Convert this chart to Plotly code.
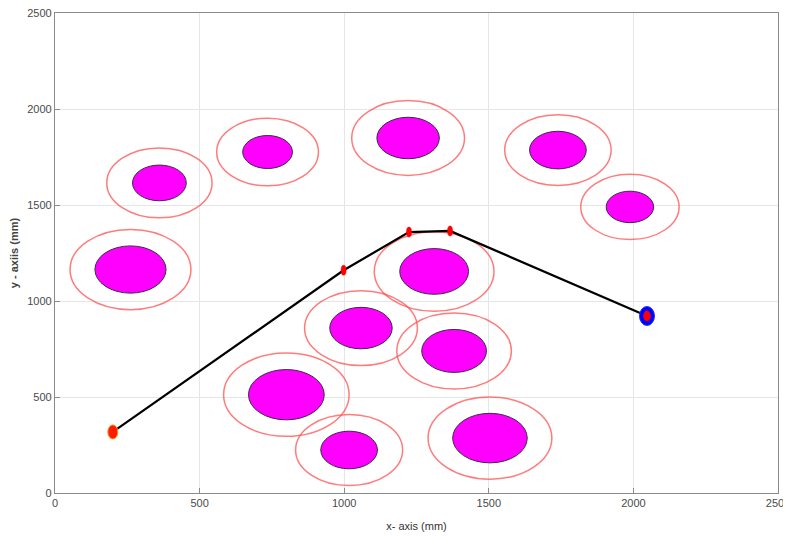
import plotly.graph_objects as go

# Obstacles (mm): centers, inner radius, outer (safety) radius
obs_x = [261, 361, 735, 1221, 1739, 1988, 1311, 1058, 1380, 800, 1017, 1504]
obs_y = [1164, 1615, 1776, 1849, 1786, 1490, 1154, 859, 740, 512, 224, 286]
obs_r = [123, 93, 86, 108, 98, 82, 119, 108, 112, 131, 98, 129]
safe_r = [209, 182, 176, 195, 184, 170, 207, 195, 198, 217, 185, 214]

# Path (mm)
path_x = [200, 998, 1224, 1366, 2047]
path_y = [318, 1160, 1359, 1365, 922]

# Tick values
ticks = [0, 500, 1000, 1500, 2000, 2500]

fig = go.Figure()

shapes = []
for cx, cy, r, R in zip(obs_x, obs_y, obs_r, safe_r):
    shapes.append(dict(type="circle", xref="x", yref="y", layer="between",
                       x0=cx - R, x1=cx + R, y0=cy - R, y1=cy + R,
                       line=dict(color="rgba(255,80,80,0.75)", width=1.5),
                       fillcolor="rgba(0,0,0,0)"))
for cx, cy, r, R in zip(obs_x, obs_y, obs_r, safe_r):
    shapes.append(dict(type="circle", xref="x", yref="y", layer="between",
                       x0=cx - r, x1=cx + r, y0=cy - r, y1=cy + r,
                       line=dict(color="#3a2a4a", width=1),
                       fillcolor="#ff00ff"))

fig.add_trace(go.Scatter(x=path_x, y=path_y, mode="lines",
                         line=dict(color="black", width=2.2),
                         hoverinfo="skip", showlegend=False))

def pix_ellipse(x, y, w, h, fill, line_color, lw=0.8):
    return dict(type="circle", xref="x", yref="y", layer="above",
                xsizemode="pixel", ysizemode="pixel",
                xanchor=x, yanchor=y,
                x0=-w / 2, x1=w / 2, y0=-h / 2, y1=h / 2,
                fillcolor=fill, line=dict(color=line_color, width=lw))

# start marker
shapes.append(pix_ellipse(path_x[0], path_y[0], 10, 14, "#ff1a00", "#ff9900", 1))
# intermediate waypoints
for px, py in zip(path_x[1:-1], path_y[1:-1]):
    shapes.append(pix_ellipse(px, py, 5, 10, "#ff0000", "#ff0000", 0.5))
# goal marker
shapes.append(pix_ellipse(path_x[-1], path_y[-1], 15, 19, "#0000ff", "#3030ff", 1))
shapes.append(pix_ellipse(path_x[-1], path_y[-1], 7, 10, "#ff0000", "#ff0000", 0.5))

axis_common = dict(
    range=[0, 2500], tickvals=ticks, ticktext=[str(t) for t in ticks],
    showgrid=True, gridcolor="#e6e6e6", gridwidth=1,
    showline=True, linecolor="#8a8a8a", linewidth=1.2, mirror=True,
    ticks="inside", ticklen=5, tickcolor="#8a8a8a",
    zeroline=False, fixedrange=True, automargin=False,
    ticklabeloverflow="allow",
    tickfont=dict(family="Liberation Sans, Arial", size=11, color="#4a4a4a"),
)

fig.update_layout(
    width=783, height=530,
    margin=dict(l=47, r=13, t=5, b=45, autoexpand=False),
    paper_bgcolor="white", plot_bgcolor="white",
    shapes=shapes,
    showlegend=False,
    xaxis=dict(**axis_common,
               title=dict(text="x- axis (mm)", standoff=14,
                          font=dict(family="Liberation Sans, Arial", size=11, color="#333"))),
    yaxis=dict(**axis_common,
               title=dict(text="<b>y - axiis (mm)</b>", standoff=6,
                          font=dict(family="Liberation Sans, Arial", size=11, color="#444"))),
)

fig.write_html("out.html")
